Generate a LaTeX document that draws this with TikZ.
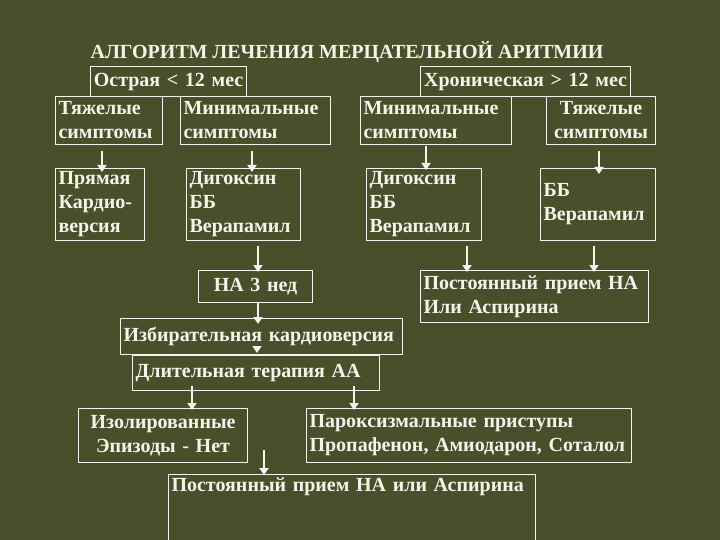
\documentclass[tikz,border=0pt]{standalone}
\usepackage{fontspec}
\setmainfont{Liberation Serif}
\usetikzlibrary{arrows.meta}
\definecolor{bg}{HTML}{4A4E2B}
\definecolor{fg}{HTML}{F4F4EA}
\tikzset{
  bx/.style={draw=fg, line width=1.1pt, text=fg, inner xsep=3pt, inner ysep=0pt, font=\bfseries\fontsize{20}{24}\selectfont, align=left},
  arr/.style={draw=fg, line width=2.6pt, -{Triangle[width=9pt,length=7pt]}},
}
\newcommand{\mybox}[7][left]{%
  \pgfmathsetmacro{\ww}{#4-#2}\pgfmathsetmacro{\hh}{#5-#3}%
  \node[bx, anchor=north west, minimum width=\ww pt, minimum height=\hh pt, text width=\ww pt-6pt, align=#1] (#7) at (#2,#3) {#6};}
% x, source node, start offset, target node, end offset
\newcommand{\ar}[5]{\draw[arr] ([yshift=-#3pt]#2.south -| #1,0) -- ([yshift=-#5pt]#4.north -| #1,0);}
\begin{document}
\begin{tikzpicture}[x=1pt,y=-1pt]
\fill[bg] (0,0) rectangle (720,540);
\useasboundingbox (0,0) rectangle (720,540);
\node[text=fg, font=\bfseries\fontsize{20}{24}\selectfont] (title) at (347,52) {АЛГОРИТМ ЛЕЧЕНИЯ МЕРЦАТЕЛЬНОЙ АРИТМИИ};
\mybox[center]{90}{66}{246}{96}{Острая < 12 мес}{acute}
\mybox{55}{96}{162}{144}{Тяжелые\\симптомы}{tl}
\mybox{180}{96}{330}{144}{Минимальные\\симптомы}{ml}
\mybox{55}{168}{144}{240}{Прямая\\Кардио-\\версия}{pk}
\mybox{186}{168}{300}{240}{Дигоксин\\ББ\\Верапамил}{dl}
\mybox[center]{198}{270}{312}{302}{НА 3 нед}{na}
\mybox[center]{420}{66}{630}{96}{Хроническая > 12 мес}{chron}
\mybox{360}{96}{511}{144}{Минимальные\\симптомы}{mr}
\mybox[center]{546}{96}{655}{144}{Тяжелые\\симптомы}{tr}
\mybox{366}{168}{481}{240}{Дигоксин\\ББ\\Верапамил}{dr}
\mybox{540}{168}{655}{240}{ББ\\Верапамил}{bb}
\mybox{420}{270}{648}{322}{Постоянный прием НА\\Или Аспирина}{pr}
\mybox{120}{318}{402}{354}{Избирательная кардиоверсия}{izb}
\mybox{132}{355}{379}{390}{Длительная терапия АА}{dlt}
\mybox[center]{78}{408}{247}{462}{Изолированные\\Эпизоды - Нет}{iso}
\mybox{306}{408}{631}{462}{Пароксизмальные приступы\\Пропафенон, Амиодарон, Соталол}{par}
\node[bx, anchor=north west, minimum width=367pt, minimum height=70pt, text width=361pt, align=left, inner ysep=2pt] (fin) at (168,474) {\parbox[t][64pt][t]{361pt}{Постоянный прием НА или Аспирина}};
\ar{102}{tl}{6}{pk}{4}
\ar{252}{ml}{6}{dl}{4}
\ar{258}{dl}{5}{na}{2}
\ar{258}{na}{0}{izb}{6}
\ar{257}{izb}{-6}{dlt}{-2}
\ar{192}{dlt}{-5}{iso}{2}
\ar{354}{dlt}{-5}{par}{2}
\ar{426}{mr}{1}{dr}{2}
\ar{599}{tr}{6}{bb}{6}
\ar{467}{dr}{5}{pr}{2}
\ar{594}{bb}{5}{pr}{2}
\coordinate (free) at (264,450);
\draw[arr] (free) -- ([yshift=-1pt]fin.north -| 264,0);
\end{tikzpicture}
\end{document}
